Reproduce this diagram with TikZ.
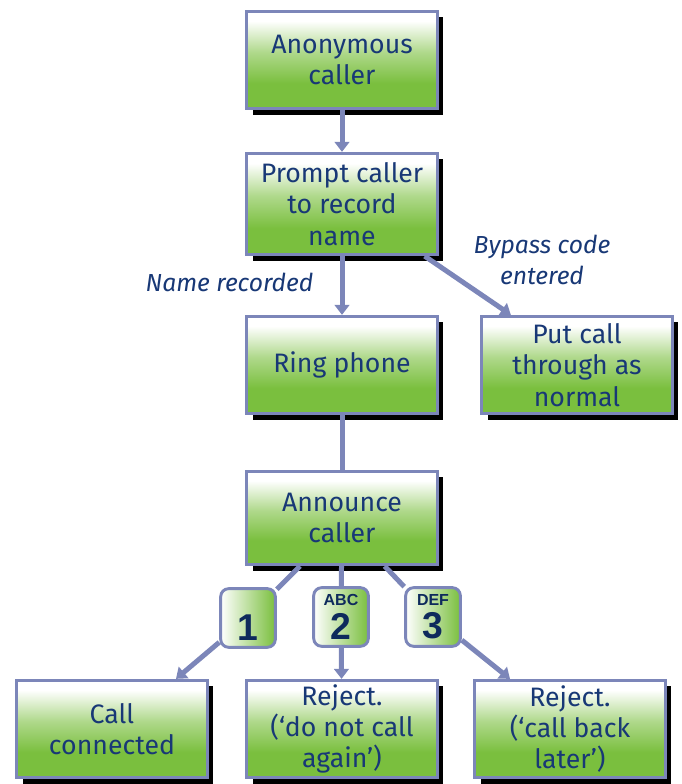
\documentclass[tikz,border=0pt]{standalone}
\usepackage{fontspec}
\setmainfont{Fira Sans}
\newfontfamily\keyfont{Liberation Sans}
\usetikzlibrary{positioning, arrows.meta, shadows}
\definecolor{edgeblue}{RGB}{124,134,185}
\definecolor{navy}{RGB}{24,56,118}
\definecolor{keynavy}{RGB}{14,42,92}
\definecolor{leaf}{RGB}{122,191,62}
\pgfdeclareverticalshading{boxfill}{100bp}{color(0bp)=(leaf); color(38bp)=(leaf); color(54bp)=(leaf!60); color(70bp)=(white); color(100bp)=(white)}
\newcommand{\keyface}[2]{\shortstack{\fontsize{12}{12}\selectfont #1\\[2.5pt]\fontsize{28}{28}\selectfont #2}}
\tikzset{%
	>={Triangle[length=7.5pt, width=11pt]},
	every edge/.append style={line width=3.75pt, draw=edgeblue},
	stepbox/.style = {draw=edgeblue, line width=2.2pt, shading=boxfill, minimum width=143pt, minimum height=73pt,
		align=center, text=navy, font=\fontsize{20}{23.5}\selectfont, inner sep=2pt,
		drop shadow={shadow xshift=4.5pt, shadow yshift=-4.5pt, fill=black, opacity=1}},
	keybox/.style = {draw=edgeblue, line width=2.2pt, rounded corners=6pt, left color=white, right color=leaf,
		minimum width=41pt, minimum height=44pt, text=keynavy, font=\keyfont\bfseries, inner sep=1pt},
	note/.style = {text=navy, font=\fontsize{18.5}{23}\selectfont\itshape, align=center}
}
\begin{document}
\begin{tikzpicture}[x=0.75pt, y=0.75pt]
			\useasboundingbox (0,0) rectangle (681,784);
			\node [stepbox] (anon) at (342,724) {Anonymous\\caller};
			\node [stepbox, minimum height=76pt] (prompt) at (342,580) {Prompt caller\\to record\\name};
			\node [stepbox] (ring) at (342,419) {Ring phone};
			\node [stepbox] (put) at (577,419) {Put call\\through as\\normal};
			\node [stepbox, minimum height=70pt] (announce) at (342,266) {Announce\\caller};
			\node [stepbox] (conn) at (112,55) {Call\\connected};
			\node [stepbox] (rejnever) at (342,55) {Reject.\\(‘do not call\\again’)};
			\node [stepbox] (rejlater) at (570,55) {Reject.\\(‘call back\\later’)};
			\node [keybox] (key1) at (248,166) {\keyface{\phantom{A}}{1}};
			\node [keybox] (key2) at (341,167) {\keyface{ABC}{2}};
			\node [keybox] (key3) at (433,167) {\keyface{DEF}{3}};
			\node [note, anchor=east] (named) at (318,502) {Name recorded};
			\node [note] (bypass) at (542,524) {Bypass code\\entered};
			\path [->] (anon) edge (prompt);
			\path [->] (prompt) edge (ring);
			\path [->] ([xshift=62pt]prompt.south) edge ([xshift=23pt]put.north west);
			\path [-] (ring) edge (announce);
			\path [-] ([xshift=-31.5pt]announce.south) edge (key1);
			\path [->] (key1) edge ([xshift=48pt]conn.north);
			\path [-] (announce) edge (key2);
			\path [->] (key2) edge (rejnever);
			\path [-] ([xshift=32pt]announce.south) edge (key3);
			\path [->] (key3) edge ([xshift=-45pt]rejlater.north);
			\end{tikzpicture}
\end{document}
